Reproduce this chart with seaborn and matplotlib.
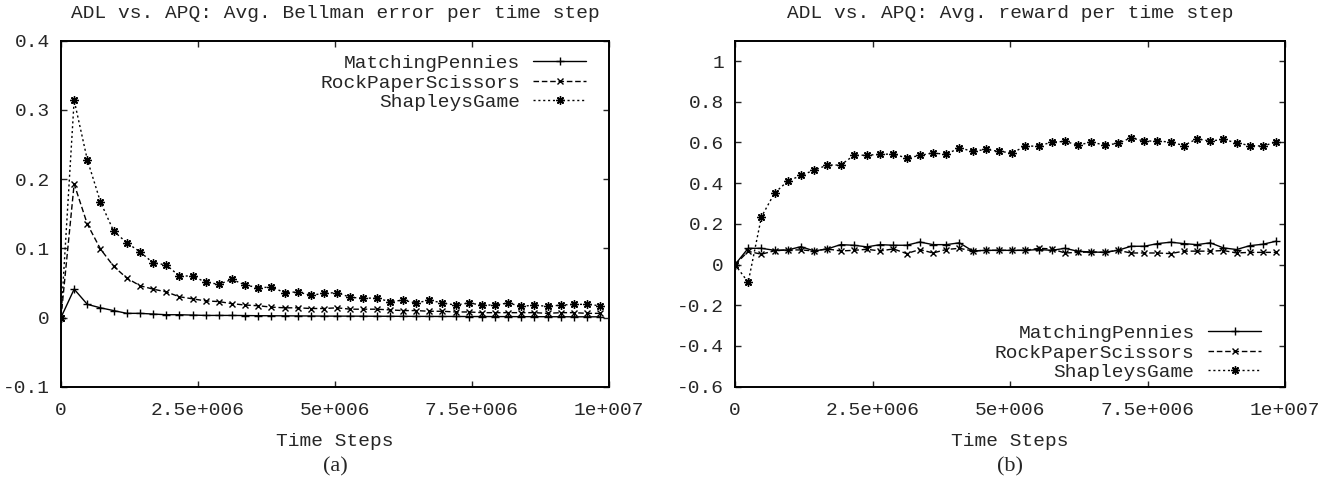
import matplotlib
matplotlib.use("Agg")
import matplotlib.pyplot as plt
import numpy as np
import pandas as pd
import seaborn as sns

# time steps: one sample every 240000 steps
steps = [240000 * k for k in range(42)]

series_names = ["MatchingPennies", "RockPaperScissors", "ShapleysGame"]

# (a) average Bellman error
bellman_mp = [0, .041, .019, .014, .010, .006, .006, .005, .004, .004,
              .0035, .003, .003, .003, .0028, .0026, .0025, .0024, .0023, .0022,
              .002, .002, .002, .0019, .0018, .0018, .0017, .0016, .0016, .0015,
              .0015, .0014, .0014, .0013, .0013, .0012, .0012, .0011, .0011, .001,
              .001, .001]
bellman_rps = [0, .193, .135, .099, .074, .057, .046, .041, .037, .030,
               .027, .024, .023, .020, .018, .017, .015, .014, .014, .013,
               .013, .014, .012, .012, .012, .011, .010, .010, .009, .009,
               .008, .008, .007, .007, .007, .007, .007, .006, .007, .007,
               .006, .006]
bellman_sg = [0, .314, .228, .167, .125, .108, .095, .079, .076, .060,
              .060, .051, .048, .055, .047, .043, .044, .036, .037, .032,
              .035, .036, .029, .028, .028, .023, .025, .021, .025, .021,
              .018, .021, .018, .018, .021, .016, .018, .016, .018, .019,
              .019, .017]

# (b) average reward
reward_mp = [0, .080, .080, .070, .072, .088, .067, .077, .098, .095,
             .087, .098, .095, .095, .111, .098, .098, .107, .067, .070,
             .070, .070, .070, .074, .070, .080, .065, .062, .060, .070,
             .090, .090, .103, .110, .103, .098, .107, .082, .074, .093,
             .100, .115]
reward_rps = [0, .065, .051, .068, .072, .072, .067, .077, .067, .070,
              .075, .067, .077, .054, .074, .057, .074, .080, .067, .070,
              .070, .070, .070, .080, .077, .057, .060, .062, .060, .070,
              .057, .057, .057, .054, .066, .066, .066, .069, .057, .060,
              .060, .060]
reward_sg = [0, -.087, .234, .352, .410, .438, .464, .489, .489, .536,
             .538, .541, .544, .523, .536, .549, .541, .574, .556, .566,
             .556, .549, .582, .582, .602, .605, .587, .602, .587, .595,
             .623, .607, .607, .602, .585, .618, .607, .615, .598, .585,
             .582, .603]

xticks = [0, 2.5e6, 5e6, 7.5e6, 1e7]
xtick_labels = ["0", "2.5e+006", "5e+006", "7.5e+006", "1e+007"]
left_yticks = [-0.1, 0, 0.1, 0.2, 0.3, 0.4]
left_ytick_labels = ["-0.1", "0", "0.1", "0.2", "0.3", "0.4"]
right_yticks = [-0.6, -0.4, -0.2, 0, 0.2, 0.4, 0.6, 0.8, 1]
right_ytick_labels = ["-0.6", "-0.4", "-0.2", "0", "0.2", "0.4", "0.6", "0.8", "1"]

sns.set_style("ticks")
plt.rcParams["font.family"] = ["Liberation Mono", "DejaVu Sans Mono"]

styles = {
    "MatchingPennies": dict(marker="+", linestyle="-", markersize=6),
    "RockPaperScissors": dict(marker="x", linestyle=(0, (4, 2)), markersize=5),
    "ShapleysGame": dict(marker=(8, 2, 0), linestyle=(0, (1.5, 2)), markersize=6),
}

fig = plt.figure(figsize=(13.36, 4.82), dpi=100)
ax_a = fig.add_axes([61 / 1336, 95.3 / 482, 548 / 1336, 346 / 482])
ax_b = fig.add_axes([735 / 1336, 95.3 / 482, 550 / 1336, 346 / 482])


def draw_panel(ax, values, title, yticks, ylabels, ylim):
    for name, vals in zip(series_names, values):
        df = pd.DataFrame({"step": steps, "value": vals})
        sns.lineplot(data=df, x="step", y="value", ax=ax, color="black",
                     linewidth=1, markeredgewidth=1, markeredgecolor="black",
                     markerfacecolor="black", label=name, **styles[name])
    ax.set_xlim(0, 1e7)
    ax.set_ylim(*ylim)
    ax.set_xticks(xticks)
    ax.set_xticklabels(xtick_labels)
    ax.set_yticks(yticks)
    ax.set_yticklabels(ylabels)
    ax.tick_params(direction="in", length=4.5, width=1, labelsize=14,
                   top=True, right=True, pad=8)
    ax.tick_params(axis="x", pad=11)
    for sp in ax.spines.values():
        sp.set_linewidth(1.4)
        sp.set_color("black")
    ax.set_title(title, fontsize=14, pad=16)
    ax.set_xlabel("Time Steps", fontsize=14, labelpad=10)
    ax.set_ylabel("")


draw_panel(ax_a, [bellman_mp, bellman_rps, bellman_sg],
           "ADL vs. APQ: Avg. Bellman error per time step",
           left_yticks, left_ytick_labels, (-0.1, 0.4))
draw_panel(ax_b, [reward_mp, reward_rps, reward_sg],
           "ADL vs. APQ: Avg. reward per time step",
           right_yticks, right_ytick_labels, (-0.6, 1.1))

legend_kw = dict(frameon=False, markerfirst=False, fontsize=14, labelspacing=0.1,
                 handlelength=2.7, handletextpad=0.7, borderpad=0, borderaxespad=0)
ax_a.legend(loc="upper right", bbox_to_anchor=(0.958, 0.96), **legend_kw)
ax_b.legend(loc="lower right", bbox_to_anchor=(0.956, 0.016), **legend_kw)

fig.text(335 / 1336, 1 - 466.7 / 482, "(a)", ha="center", va="center",
         fontsize=16, family="Liberation Serif")
fig.text(1010 / 1336, 1 - 466.7 / 482, "(b)", ha="center", va="center",
         fontsize=16, family="Liberation Serif")

fig.savefig("out.png", dpi=100)
